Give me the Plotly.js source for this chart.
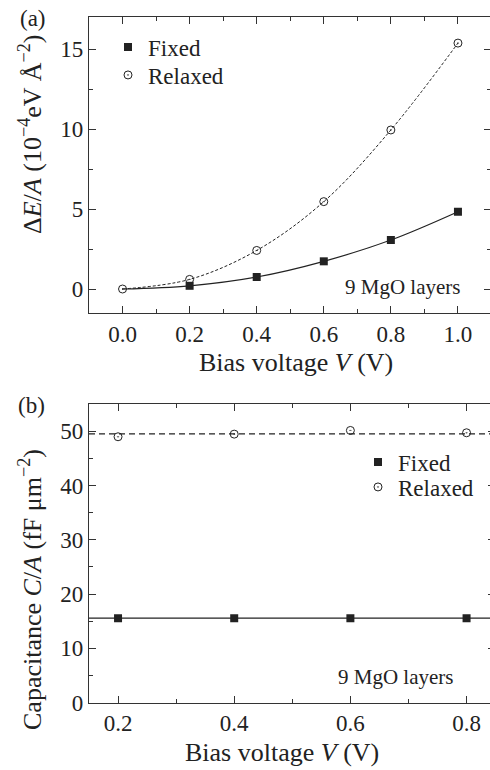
<!DOCTYPE html>
<html>
<head>
<meta charset="utf-8">
<script src="https://cdn.plot.ly/plotly-3.0.1.min.js"></script>
<style>
body{margin:0;padding:0;background:#fff;}
#wrap{width:490px;height:770px;overflow:hidden;}
#chart{width:500px;height:770px;}
#chart svg text{font-family:'Liberation Serif' !important;}
</style>
</head>
<body>
<div id="wrap"><div id="chart"></div></div>
<script>
// Panel (a): energy per area vs bias voltage
const aVoltage = [0.2, 0.4, 0.6, 0.8, 1.0];
const aFixed = [0.2, 0.75, 1.73, 3.06, 4.83];
const aRelaxedVoltage = [0.0, 0.2, 0.4, 0.6, 0.8, 1.0];
const aRelaxed = [0.0, 0.6, 2.41, 5.46, 9.94, 15.37];
const aFitVoltage = [0.0, 0.2, 0.4, 0.6, 0.8, 1.0];
const aFixedFit = [0.0, 0.2, 0.75, 1.73, 3.06, 4.83];
const aRelaxedFit = [0.0, 0.6, 2.41, 5.46, 9.94, 15.37];
const aXTicks = [0.0, 0.2, 0.4, 0.6, 0.8, 1.0];
const aXTickLabels = ['0.0', '0.2', '0.4', '0.6', '0.8', '1.0'];
const aYTicks = [0, 5, 10, 15];

// Panel (b): capacitance per area vs bias voltage
const bVoltage = [0.2, 0.4, 0.6, 0.8];
const bFixed = [15.57, 15.57, 15.57, 15.57];
const bRelaxed = [48.97, 49.45, 50.13, 49.7];
const bFixedMean = 15.57;
const bRelaxedMean = 49.5;
const bXTicks = [0.2, 0.4, 0.6, 0.8];
const bXTickLabels = ['0.2', '0.4', '0.6', '0.8'];
const bYTicks = [0, 10, 20, 30, 40, 50];

const seriesNames = ['Fixed', 'Relaxed'];
const noteText = '9 MgO layers';

const INK = '#222';
const W = 500, H = 770;
const px = v => v / W;
const py = v => 1 - v / H;

const squareMarker = {symbol: 'square', size: 8, color: INK};
const circleMarker = {symbol: 'circle-open-dot', size: 8, color: INK, line: {width: 1, color: INK}};

const traces = [
  {x: aFitVoltage, y: aFixedFit, xaxis: 'x', yaxis: 'y', mode: 'lines', line: {shape: 'spline', color: INK, width: 1.2}, showlegend: false, hoverinfo: 'skip'},
  {x: aFitVoltage, y: aRelaxedFit, xaxis: 'x', yaxis: 'y', mode: 'lines', line: {shape: 'spline', color: INK, width: 1, dash: '3px,2px'}, showlegend: false, hoverinfo: 'skip'},
  {x: aVoltage, y: aFixed, xaxis: 'x', yaxis: 'y', mode: 'markers', name: seriesNames[0], marker: squareMarker, legend: 'legend'},
  {x: aRelaxedVoltage, y: aRelaxed, xaxis: 'x', yaxis: 'y', mode: 'markers', name: seriesNames[1], marker: circleMarker, legend: 'legend2'},
  {x: bVoltage, y: bFixed, xaxis: 'x2', yaxis: 'y2', mode: 'markers', name: seriesNames[0], marker: squareMarker, legend: 'legend3'},
  {x: bVoltage, y: bRelaxed, xaxis: 'x2', yaxis: 'y2', mode: 'markers', name: seriesNames[1], marker: circleMarker, legend: 'legend4'}
];

const axisCommon = {
  showline: true, linecolor: '#333', linewidth: 1.3, mirror: 'ticks',
  ticks: 'inside', ticklen: 7, tickwidth: 1.2, tickcolor: '#333',
  showgrid: false, zeroline: false,
  tickfont: {size: 23},
  fixedrange: true
};

function legendAt(xLeft, yCenter) {
  return {
    x: px(xLeft), y: py(yCenter), xanchor: 'left', yanchor: 'middle',
    bgcolor: 'rgba(0,0,0,0)', borderwidth: 0,
    font: {size: 23}, itemwidth: 30
  };
}

const layout = {
  width: W, height: H,
  margin: {l: 0, r: 0, t: 0, b: 0},
  paper_bgcolor: '#fff', plot_bgcolor: '#fff',
  font: {family: 'Liberation Serif', size: 20, color: INK},
  xaxis: Object.assign({}, axisCommon, {
    domain: [px(89), px(491.5)], anchor: 'y', range: [-0.1, 1.1],
    tickvals: aXTicks, ticktext: aXTickLabels,
    minor: {dtick: 0.1, ticks: 'inside', ticklen: 4, tickwidth: 1.1, tickcolor: '#333'}
  }),
  yaxis: Object.assign({}, axisCommon, {
    domain: [py(313), py(17)], anchor: 'x', range: [-1.5, 17],
    tickvals: aYTicks,
    minor: {dtick: 2.5, ticks: 'inside', ticklen: 4, tickwidth: 1.1, tickcolor: '#333'}
  }),
  xaxis2: Object.assign({}, axisCommon, {
    domain: [px(89), px(495.6)], anchor: 'y2', range: [0.15, 0.85],
    tickvals: bXTicks, ticktext: bXTickLabels,
    minor: {dtick: 0.1, ticks: 'inside', ticklen: 4, tickwidth: 1.1, tickcolor: '#333'}
  }),
  yaxis2: Object.assign({}, axisCommon, {
    domain: [py(702.7), py(404)], anchor: 'x2', range: [0, 55],
    tickvals: bYTicks,
    minor: {dtick: 5, ticks: 'inside', ticklen: 4, tickwidth: 1.1, tickcolor: '#333'}
  }),
  legend: legendAt(108, 47),
  legend2: legendAt(108, 75),
  legend3: legendAt(358, 462),
  legend4: legendAt(358, 487),
  shapes: [
    {type: 'line', xref: 'x2 domain', yref: 'y2', x0: 0, x1: 1, y0: bFixedMean, y1: bFixedMean, line: {color: INK, width: 1.2}},
    {type: 'line', xref: 'x2 domain', yref: 'y2', x0: 0, x1: 1, y0: bRelaxedMean, y1: bRelaxedMean, line: {color: INK, width: 1.1, dash: '6px,4px'}}
  ],
  annotations: [
    {text: '(a)', xref: 'paper', yref: 'paper', x: px(33), y: py(18), xanchor: 'center', yanchor: 'middle', showarrow: false, font: {size: 23}},
    {text: '(b)', xref: 'paper', yref: 'paper', x: px(31), y: py(405), xanchor: 'center', yanchor: 'middle', showarrow: false, font: {size: 23}},
    {text: 'Δ<i>E</i>/<i>A</i> (10<sup>−4</sup>eV Å<sup>−2</sup>)', xref: 'paper', yref: 'paper', x: px(30), y: py(135), xanchor: 'center', yanchor: 'middle', textangle: -90, showarrow: false, font: {size: 26}},
    {text: 'Capacitance <i>C</i>/<i>A</i> (fF μm<sup>−2</sup>)', xref: 'paper', yref: 'paper', x: px(30), y: py(590), xanchor: 'center', yanchor: 'middle', textangle: -90, showarrow: false, font: {size: 26}},
    {text: 'Bias voltage <i>V</i> (V)', xref: 'paper', yref: 'paper', x: px(296), y: py(362), xanchor: 'center', yanchor: 'middle', showarrow: false, font: {size: 26}},
    {text: 'Bias voltage <i>V</i> (V)', xref: 'paper', yref: 'paper', x: px(282), y: py(752), xanchor: 'center', yanchor: 'middle', showarrow: false, font: {size: 26}},
    {text: noteText, xref: 'paper', yref: 'paper', x: px(462), y: py(287), xanchor: 'right', yanchor: 'middle', showarrow: false, font: {size: 21}},
    {text: noteText, xref: 'paper', yref: 'paper', x: px(455), y: py(677), xanchor: 'right', yanchor: 'middle', showarrow: false, font: {size: 21}}
  ]
};

Plotly.newPlot('chart', traces, layout, {displayModeBar: false});
</script>
</body>
</html>
